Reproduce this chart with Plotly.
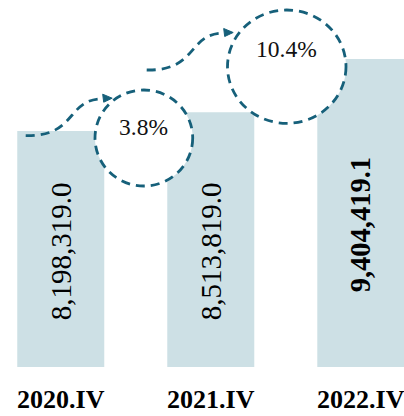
import plotly.graph_objects as go

# ---- data ----
categories = ["2020.IV", "2021.IV", "2022.IV"]
values = [8198319.0, 8513819.0, 9404419.1]
value_labels = ["8,198,319.0", "8,513,819.0", "9,404,419.1"]
value_bold = [False, False, True]
growth_labels = ["3.8%", "10.4%"]

# ---- layout constants (pixels) ----
W, H = 404, 416
ML, MR, MT, MB = 0, 0, 0, 49
PW, PH = W - ML - MR, H - MT - MB
Y_FLOOR, Y_CEIL = 4.25e6, 10.392e6
X_RANGE = [-0.405, 2.288]
BAR_COLOR = "#cde0e5"
TEAL = "#16607a"
SERIF = "Liberation Serif"

def pxx(x):
    return (x - ML) / PW

def pxy(y):
    return (MT + PH - y) / PH

xs = list(range(len(categories)))

fig = go.Figure()
fig.add_trace(go.Bar(
    x=xs, y=values, width=0.58,
    marker=dict(color=BAR_COLOR, line=dict(width=0)),
    hoverinfo="skip",
))

annotations = []
# value labels inside bars (vertical)
label_centers_px = [251.5, 251.5, 224.5]
for i, (lab, b) in enumerate(zip(value_labels, value_bold)):
    annotations.append(dict(
        x=xs[i], xref="x", y=pxy(label_centers_px[i]), yref="paper",
        text=lab, showarrow=False, textangle=-90,
        xanchor="center", yanchor="middle",
        font=dict(family=SERIF, size=28.5 if b else 29, color="black",
                  weight="bold" if b else "normal"),
    ))

# growth circles & arrows
circle_boxes = [(95, 90, 192.7, 186), (227.5, 10, 346, 123.3)]
growth_text_px = [(143.8, 127.5), (286.5, 48.7)]
arrow_starts = [(25.7, 135.7), (146.7, 70.0)]
curve_rel = [(52, 1), (40, -37), (78, -37)]
head_rel = [(77, -41.5), (78, -33.5), (86.5, -37.5)]

shapes = []
for (sx, sy) in arrow_starts:
    pts = [(sx + dx, sy + dy) for dx, dy in curve_rel]
    path = "M {},{} C {},{} {},{} {},{}".format(
        pxx(sx), pxy(sy),
        pxx(pts[0][0]), pxy(pts[0][1]),
        pxx(pts[1][0]), pxy(pts[1][1]),
        pxx(pts[2][0]), pxy(pts[2][1]))
    shapes.append(dict(type="path", xref="paper", yref="paper", path=path,
                       line=dict(color=TEAL, width=2.8, dash="9px,6px"),
                       layer="above"))
    hp = [(sx + dx, sy + dy) for dx, dy in head_rel]
    hpath = "M {},{} L {},{} L {},{} Z".format(
        pxx(hp[0][0]), pxy(hp[0][1]), pxx(hp[1][0]), pxy(hp[1][1]),
        pxx(hp[2][0]), pxy(hp[2][1]))
    shapes.append(dict(type="path", xref="paper", yref="paper", path=hpath,
                       line=dict(color=TEAL, width=1), fillcolor=TEAL,
                       layer="above"))

for (x0, y0, x1, y1) in circle_boxes:
    shapes.append(dict(type="circle", xref="paper", yref="paper",
                       x0=pxx(x0), x1=pxx(x1), y0=pxy(y1), y1=pxy(y0),
                       fillcolor="white",
                       line=dict(color=TEAL, width=2.8, dash="9px,6px"),
                       layer="above"))

for lab, (tx, ty) in zip(growth_labels, growth_text_px):
    annotations.append(dict(
        x=pxx(tx), y=pxy(ty), xref="paper", yref="paper",
        text=lab, showarrow=False, xanchor="center", yanchor="middle",
        font=dict(family=SERIF, size=23.5, color="#111111"),
    ))

fig.update_layout(
    width=W, height=H,
    margin=dict(l=ML, r=MR, t=MT, b=MB, pad=0),
    paper_bgcolor="white", plot_bgcolor="white",
    showlegend=False,
    shapes=shapes, annotations=annotations,
    xaxis=dict(
        range=X_RANGE, tickmode="array", tickvals=xs, ticktext=categories,
        showgrid=False, zeroline=False, showline=False, ticks="",
        ticklabelstandoff=14, ticklabeloverflow="allow",
        tickfont=dict(family=SERIF, size=26, color="black", weight="bold"),
        fixedrange=True,
    ),
    yaxis=dict(range=[Y_FLOOR, Y_CEIL], visible=False, showgrid=False,
               zeroline=False, fixedrange=True),
)

fig.write_html("out.html", config={"displayModeBar": False},
               post_script="document.body.style.margin='0';document.body.style.overflow='hidden';")
